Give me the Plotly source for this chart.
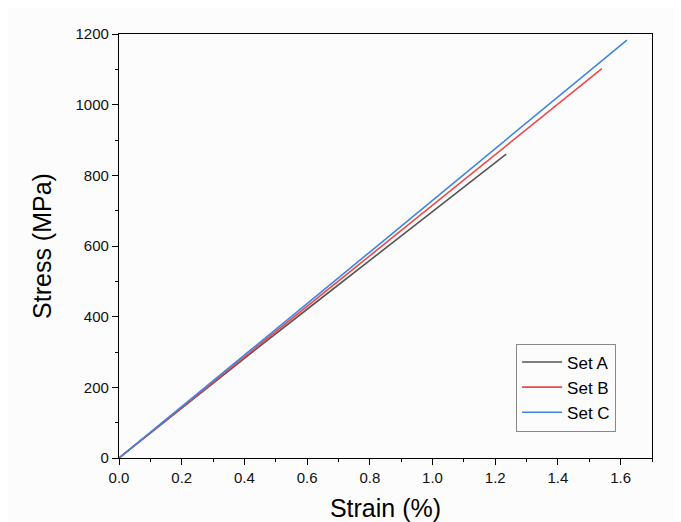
import plotly.graph_objects as go

# Data
strain_a = [0.0, 0.2, 0.4, 0.6, 0.8, 1.0, 1.235]
stress_a = [0, 142, 282, 421, 559, 698, 860]
strain_b = [0.0, 0.2, 0.4, 0.6, 0.8, 1.0, 1.2, 1.4, 1.54]
stress_b = [0, 143, 287, 430, 573, 716, 859, 1002, 1102]
strain_c = [0.0, 0.2, 0.4, 0.6, 0.8, 1.0, 1.2, 1.4, 1.62]
stress_c = [0, 145, 291, 437, 583, 729, 875, 1021, 1183]
names = ["Set A", "Set B", "Set C"]
colors = ["#555555", "#f04848", "#3d85e6"]

FONT = "Liberation Sans, Arial"

fig = go.Figure()
for xs, ys, n, c in zip([strain_a, strain_b, strain_c],
                        [stress_a, stress_b, stress_c], names, colors):
    fig.add_trace(go.Scatter(x=xs, y=ys, mode="lines", name=n,
                             line=dict(color=c, width=1.6)))

axis_common = dict(
    showgrid=False, zeroline=False, showline=True, linecolor="black",
    linewidth=1.3, mirror=True, ticks="outside", ticklen=6, tickwidth=1.2,
    tickcolor="black", tickfont=dict(family=FONT, size=15, color="#111111"),
    automargin=False,
)

fig.update_xaxes(range=[0, 1.7], dtick=0.2, tickformat=".1f",
                 minor=dict(ticks="outside", ticklen=3, dtick=0.1, tickcolor="black"),
                 title=dict(text="Strain (%)", font=dict(family=FONT, size=25, color="black"), standoff=16),
                 **axis_common)
fig.update_yaxes(range=[0, 1200], dtick=200,
                 minor=dict(ticks="outside", ticklen=3, dtick=100, tickcolor="black"),
                 title=dict(text="Stress (MPa)", font=dict(family=FONT, size=25, color="black"), standoff=16),
                 **axis_common)

fig.update_layout(
    width=673, height=514,
    margin=dict(l=111, r=29, t=26, b=64),
    paper_bgcolor="#fcfcfc", plot_bgcolor="#fcfcfc",
    showlegend=True,
    legend=dict(x=0.745, y=0.27, xanchor="left", yanchor="top",
                bordercolor="#888888", borderwidth=1, bgcolor="rgba(0,0,0,0)",
                font=dict(family=FONT, size=17, color="black"),
                tracegroupgap=0, itemwidth=40),
)

fig.write_html("out.html")
